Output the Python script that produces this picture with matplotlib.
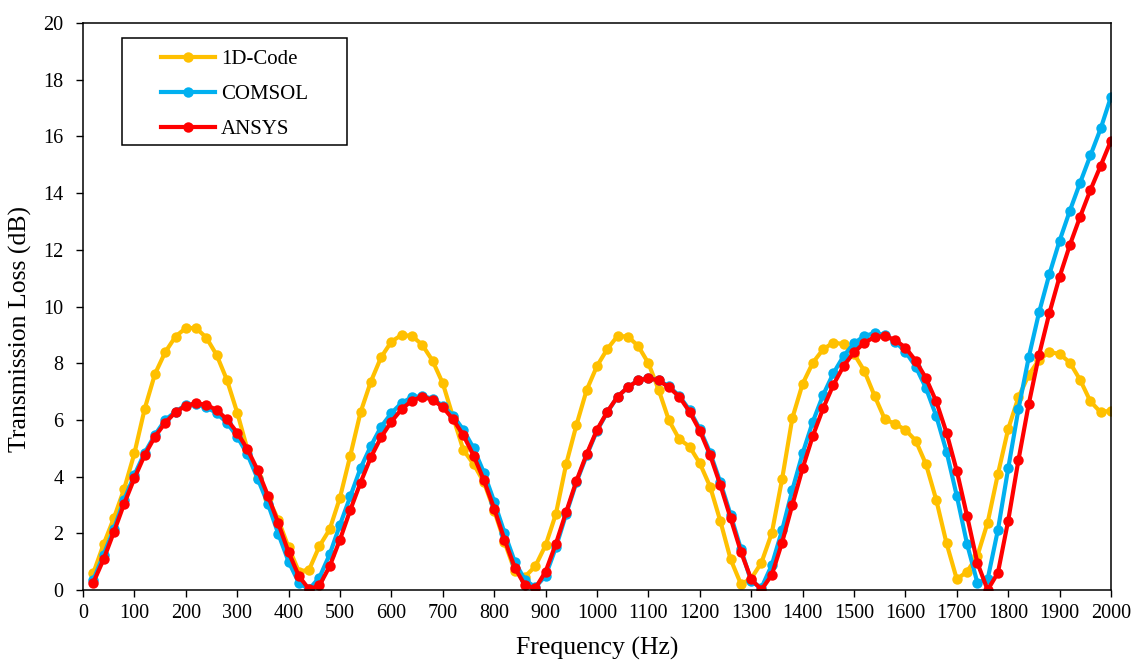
import matplotlib
matplotlib.use("Agg")
import matplotlib.pyplot as plt
from matplotlib.patches import Rectangle

# ---------------- data ----------------
freq = list(range(20, 2001, 20))

code_1d = [0.59, 1.61, 2.53, 3.56, 4.82, 6.39, 7.62, 8.39, 8.94, 9.24,
           9.24, 8.90, 8.29, 7.41, 6.26, 4.95, 3.94, 3.25, 2.47, 1.50,
           0.65, 0.72, 1.55, 2.14, 3.26, 4.74, 6.27, 7.35, 8.21, 8.76,
           9.00, 8.96, 8.65, 8.09, 7.29, 6.10, 4.94, 4.44, 3.80, 2.80,
           1.70, 0.68, 0.47, 0.84, 1.58, 2.68, 4.44, 5.82, 7.06, 7.90,
           8.50, 8.96, 8.94, 8.61, 8.00, 7.06, 5.98, 5.32, 5.06, 4.47,
           3.65, 2.43, 1.08, 0.21, 0.40, 0.97, 2.00, 3.90, 6.06, 7.27,
           8.02, 8.49, 8.73, 8.67, 8.33, 7.73, 6.85, 6.02, 5.86, 5.65,
           5.27, 4.44, 3.18, 1.65, 0.38, 0.65, 1.20, 2.38, 4.09, 5.68,
           6.80, 7.59, 8.12, 8.39, 8.33, 8.02, 7.41, 6.65, 6.27, 6.33]

comsol = [0.35, 1.24, 2.15, 3.18, 4.06, 4.84, 5.47, 6.00, 6.29, 6.53,
          6.55, 6.45, 6.24, 5.90, 5.41, 4.78, 3.92, 3.03, 1.98, 1.00,
          0.25, 0.03, 0.44, 1.26, 2.30, 3.30, 4.30, 5.08, 5.76, 6.24,
          6.60, 6.80, 6.84, 6.75, 6.50, 6.15, 5.65, 5.00, 4.14, 3.12,
          2.02, 1.00, 0.35, 0.10, 0.50, 1.50, 2.68, 3.80, 4.75, 5.62,
          6.27, 6.82, 7.15, 7.40, 7.48, 7.40, 7.18, 6.85, 6.35, 5.68,
          4.85, 3.80, 2.65, 1.45, 0.30, 0.08, 0.88, 2.10, 3.53, 4.82,
          5.94, 6.88, 7.65, 8.26, 8.70, 8.96, 9.06, 9.00, 8.76, 8.41,
          7.88, 7.12, 6.14, 4.88, 3.32, 1.62, 0.26, 0.38, 2.12, 4.29,
          6.38, 8.21, 9.79, 11.13, 12.32, 13.38, 14.37, 15.33, 16.28, 17.40]

ansys = [0.26, 1.08, 2.04, 3.04, 3.94, 4.76, 5.41, 5.90, 6.27, 6.50,
         6.59, 6.53, 6.35, 6.02, 5.55, 4.96, 4.22, 3.32, 2.35, 1.33,
         0.49, 0.02, 0.16, 0.84, 1.78, 2.82, 3.79, 4.68, 5.39, 5.94,
         6.38, 6.68, 6.82, 6.71, 6.45, 6.02, 5.46, 4.74, 3.87, 2.87,
         1.78, 0.79, 0.16, 0.06, 0.65, 1.63, 2.75, 3.85, 4.80, 5.65,
         6.29, 6.82, 7.15, 7.39, 7.47, 7.39, 7.15, 6.82, 6.29, 5.62,
         4.76, 3.70, 2.53, 1.35, 0.38, 0.01, 0.53, 1.67, 3.00, 4.29,
         5.44, 6.41, 7.24, 7.91, 8.38, 8.72, 8.92, 8.96, 8.82, 8.55,
         8.09, 7.47, 6.65, 5.55, 4.20, 2.61, 0.96, 0.00, 0.61, 2.45,
         4.59, 6.56, 8.29, 9.76, 11.05, 12.17, 13.17, 14.11, 14.97, 15.85]

series_names = ["1D-Code", "COMSOL", "ANSYS"]
series_colors = ["#FFC000", "#00B0F0", "#FF0000"]

x_ticks = list(range(0, 2001, 100))
y_ticks = list(range(0, 21, 2))

# ---------------- figure ----------------
plt.rcParams['font.family'] = ['Liberation Serif', 'DejaVu Serif']

W, H = 1133, 660
fig = plt.figure(figsize=(W / 100, H / 100), dpi=100)
ax = fig.add_axes([83 / W, 1 - 590 / H, 1028 / W, 567 / H])

for vals, name, col in zip([code_1d, comsol, ansys], series_names, series_colors):
    ax.plot(freq, vals, color=col, lw=3.0, marker='o', markersize=7.5,
            markeredgewidth=0, label=name, solid_joinstyle='round')

ax.set_xlim(0, 2000)
ax.set_ylim(0, 20)
ax.set_xticks(x_ticks)
ax.set_yticks(y_ticks)
ax.tick_params(axis='both', direction='out', length=5, width=1.0,
               labelsize=14.5, color='black')
ax.tick_params(axis='x', pad=5)
ax.tick_params(axis='y', pad=9)
for sp in ax.spines.values():
    sp.set_linewidth(1.1)
    sp.set_color('black')

ax.set_xlabel("Frequency (Hz)", fontsize=18.5)
ax.set_ylabel("Transmission Loss (dB)", fontsize=18.5)
ax.xaxis.set_label_coords(0.5, -0.083)
ax.yaxis.set_label_coords(-0.05, 0.461)

# legend box (Excel style, wider padding)
box_x0 = (122 - 83) / 1028
box_x1 = (347 - 83) / 1028
box_y0 = 1 - (145 - 23) / 567
box_y1 = 1 - (38 - 23) / 567
ax.add_patch(Rectangle((box_x0, box_y0), box_x1 - box_x0, box_y1 - box_y0,
                       transform=ax.transAxes, facecolor='white',
                       edgecolor='black', lw=1.1, zorder=5))
leg = ax.legend(loc='center',
                bbox_to_anchor=((box_x0 + box_x1) / 2, (box_y0 + box_y1) / 2 - 3 / 567),
                frameon=False, fontsize=15, handlelength=2.6, handletextpad=0.3,
                labelspacing=0.75, borderaxespad=0, borderpad=0)
leg.set_zorder(6)

fig.savefig("out.png", dpi=100)
